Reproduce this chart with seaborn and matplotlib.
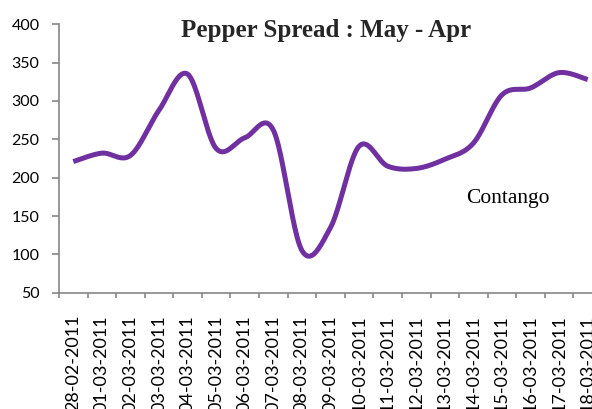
import numpy as np
import pandas as pd
import seaborn as sns
import matplotlib
matplotlib.use("Agg")
import matplotlib.pyplot as plt

sns.set_theme(style="white")
plt.rcParams['font.family'] = ['Lato', 'DejaVu Sans']

#%% data
dates = ["28-02-2011", "01-03-2011", "02-03-2011", "03-03-2011", "04-03-2011",
         "05-03-2011", "06-03-2011", "07-03-2011", "08-03-2011", "09-03-2011",
         "10-03-2011", "11-03-2011", "12-03-2011", "13-03-2011", "14-03-2011",
         "15-03-2011", "16-03-2011", "17-03-2011", "18-03-2011"]
spread = [221, 232, 229, 288, 335, 238, 252, 262, 105, 135,
          241, 215, 212, 224, 245, 308, 317, 337, 328]
yticks = [50, 100, 150, 200, 250, 300, 350, 400]

#%% excel-like smoothed line: bezier through each point
def smooth(xv, yv, n=40):
    px = np.array(xv, float)
    py = np.array(yv, float)
    xs, ys = [], []
    t = np.linspace(0, 1, n, endpoint=False)
    b0, b1, b2, b3 = (1 - t) ** 3, 3 * t * (1 - t) ** 2, 3 * t ** 2 * (1 - t), t ** 3
    for i in range(len(px) - 1):
        i0 = max(i - 1, 0)
        i3 = min(i + 2, len(px) - 1)
        c1x = px[i] + (px[i + 1] - px[i0]) / 6
        c1y = py[i] + (py[i + 1] - py[i0]) / 6
        c2x = px[i + 1] - (px[i3] - px[i]) / 6
        c2y = py[i + 1] - (py[i3] - py[i]) / 6
        xs.append(b0 * px[i] + b1 * c1x + b2 * c2x + b3 * px[i + 1])
        ys.append(b0 * py[i] + b1 * c1y + b2 * c2y + b3 * py[i + 1])
    xs.append([px[-1]])
    ys.append([py[-1]])
    return np.concatenate(xs), np.concatenate(ys)

pos = np.arange(len(dates))
sx, sy = smooth(pos, spread)
curve = pd.DataFrame({"x": sx, "y": sy})

#%% plot
fig = plt.figure(figsize=(5.92, 4.09), dpi=100)
ax = fig.add_axes([59 / 592, (409 - 292.7) / 409, 543 / 592, 268.4 / 409])

sns.lineplot(data=curve, x="x", y="y", sort=False, color="#7030A0", lw=3.6,
             ax=ax, solid_capstyle="butt")

ax.set_xlim(-0.5, len(dates) - 0.5)
ax.set_ylim(50, 400)
ax.set_yticks(yticks)
ax.set_xticks(pos)
ax.set_xticklabels(dates, rotation=90, va="top", ha="center")
ax.set_xticks(np.arange(len(dates) + 1) - 0.5, minor=True)
ax.set_xlabel("")
ax.set_ylabel("")

gray = "#868686"
for s in ["top", "right"]:
    ax.spines[s].set_visible(False)
for s in ["left", "bottom"]:
    ax.spines[s].set_color(gray)
    ax.spines[s].set_linewidth(1.2)
ax.tick_params(axis="y", which="major", left=True, length=5, width=1.2,
               color=gray, labelsize=11.5, pad=9, labelcolor="black")
ax.tick_params(axis="x", which="major", bottom=False, length=0,
               labelsize=13, pad=16, labelcolor="black")
ax.tick_params(axis="x", which="minor", bottom=True, length=3.6, width=1.2,
               color=gray)
ax.grid(False)

ax.text(15.2, 167, "Contango", ha="center", va="baseline", fontsize=15.5,
        family=["Liberation Serif", "DejaVu Serif"], color="black")

fig.text(326 / 592, 1 - 30 / 409, "Pepper Spread : May - Apr", ha="center",
         va="center", fontsize=18, fontweight="bold",
         family=["Liberation Serif", "DejaVu Serif"])

fig.savefig("out.png", dpi=100)
